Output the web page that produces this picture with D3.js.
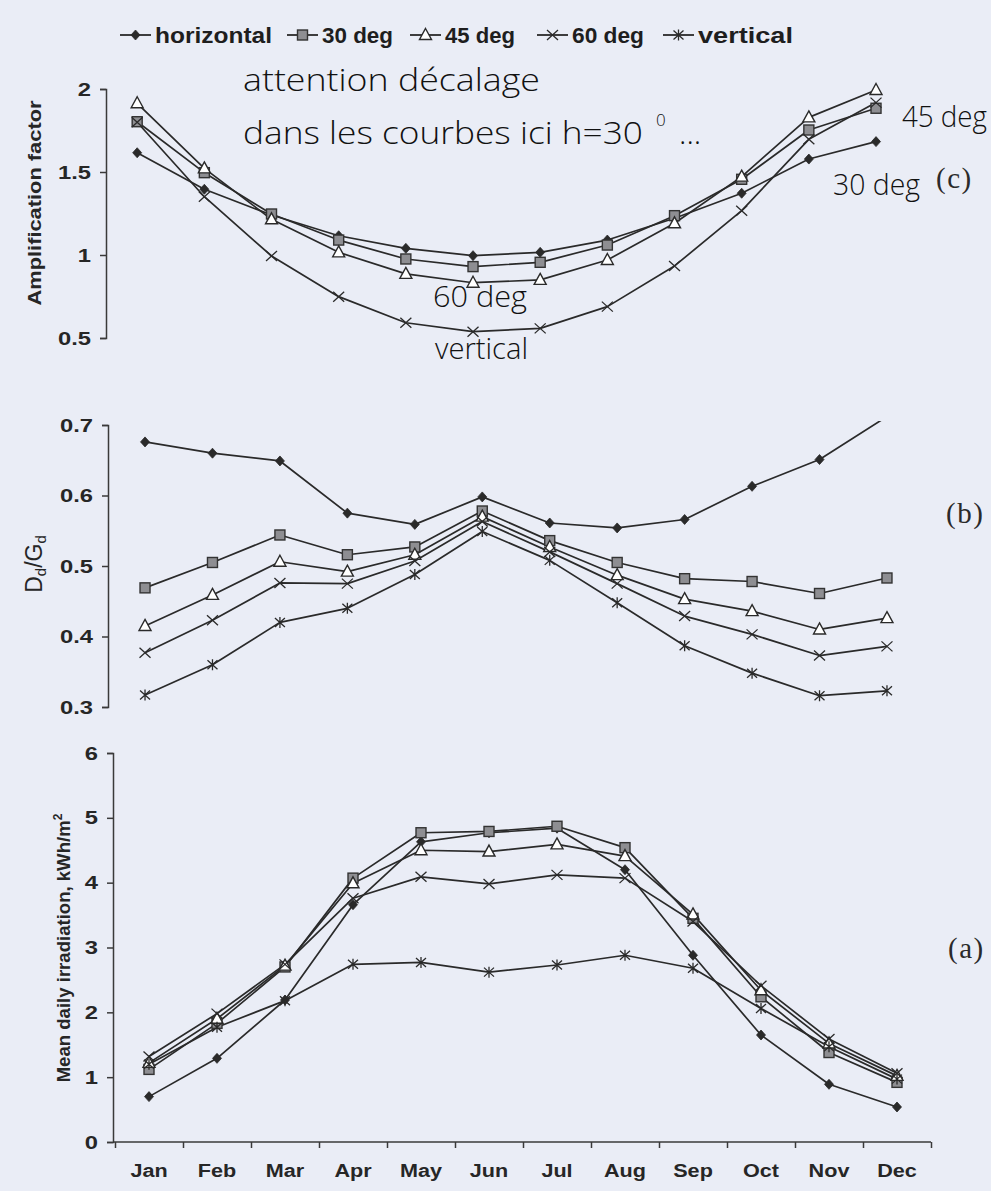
<!DOCTYPE html>
<html>
<head>
<meta charset="utf-8">
<script src="https://cdn.jsdelivr.net/npm/d3@7"></script>
<style>
  html, body { margin: 0; padding: 0; background: #eaedf6; }
  svg { display: block; }
</style>
</head>
<body>
<svg id="chart" width="991" height="1191"></svg>
<script>
// ---- data ----
const months = ["Jan", "Feb", "Mar", "Apr", "May", "Jun", "Jul", "Aug", "Sep", "Oct", "Nov", "Dec"];
const seriesNames = ["horizontal", "30 deg", "45 deg", "60 deg", "vertical"];

// (c) amplification factor, as plotted with the horizontal / 30 / 45 / 60 deg symbols
const ampHorizontal = [1.616, 1.396, 1.241, 1.116, 1.04, 0.996, 1.016, 1.09, 1.221, 1.372, 1.578, 1.683];
const amp30 = [1.803, 1.496, 1.247, 1.09, 0.976, 0.93, 0.956, 1.06, 1.237, 1.456, 1.753, 1.884];
const amp45 = [1.914, 1.522, 1.215, 1.016, 0.886, 0.833, 0.85, 0.97, 1.191, 1.472, 1.829, 1.994];
const amp60 = [1.80, 1.351, 0.994, 0.749, 0.592, 0.538, 0.558, 0.689, 0.934, 1.267, 1.697, 1.918];
const ampTicks = [0.5, 1, 1.5, 2];

// (b) diffuse fraction Dd/Gd
const dgHorizontal = [0.676, 0.660, 0.649, 0.575, 0.559, 0.598, 0.561, 0.554, 0.566, 0.613, 0.651, 0.712];
const dg30 = [0.469, 0.505, 0.544, 0.516, 0.527, 0.578, 0.536, 0.505, 0.482, 0.478, 0.461, 0.483];
const dg45 = [0.415, 0.459, 0.506, 0.492, 0.516, 0.570, 0.527, 0.487, 0.453, 0.436, 0.410, 0.426];
const dg60 = [0.377, 0.423, 0.476, 0.475, 0.507, 0.563, 0.520, 0.475, 0.429, 0.403, 0.373, 0.386];
const dgVertical = [0.317, 0.360, 0.420, 0.440, 0.488, 0.549, 0.508, 0.448, 0.387, 0.348, 0.316, 0.323];
const dgTicks = [0.3, 0.4, 0.5, 0.6, 0.7];

// (a) mean daily irradiation, kWh/m2
const irrHorizontal = [0.70, 1.29, 2.19, 3.66, 4.63, 4.77, 4.84, 4.20, 2.88, 1.65, 0.89, 0.54];
const irr30 = [1.12, 1.83, 2.70, 4.07, 4.77, 4.79, 4.87, 4.54, 3.45, 2.24, 1.38, 0.92];
const irr45 = [1.22, 1.90, 2.72, 3.99, 4.50, 4.48, 4.59, 4.41, 3.51, 2.34, 1.52, 1.02];
const irr60 = [1.32, 1.98, 2.74, 3.76, 4.09, 3.98, 4.12, 4.07, 3.40, 2.41, 1.59, 1.06];
const irrVertical = [1.20, 1.77, 2.18, 2.74, 2.77, 2.62, 2.73, 2.88, 2.68, 2.06, 1.47, 0.97];
const irrTicks = [0, 1, 2, 3, 4, 5, 6];

// ---- drawing ----
const svg = d3.select("#chart");
const INK = "#2a2a2a";
const AXIS_FONT = "'Liberation Sans', Arial, sans-serif";
const HAND_FONT = "'Open Sans', 'DejaVu Sans', sans-serif";

// stretch text horizontally (the printed sans is wider than Arial)
function widen(sel, factor) {
  sel.each(function () {
    const len = this.getComputedTextLength();
    d3.select(this).attr("textLength", len * factor).attr("lengthAdjust", "spacingAndGlyphs");
  });
}

// marker shapes, one per series in legend order
const shapes = ["diamond", "square", "triangle", "cross", "asterisk"];
function drawMarker(g, shape, x, y) {
  if (shape === "diamond") {
    g.append("path").attr("d", `M${x},${y - 5}L${x + 4.5},${y}L${x},${y + 5}L${x - 4.5},${y}Z`)
      .attr("fill", INK).attr("stroke", INK).attr("stroke-width", 0.8);
  } else if (shape === "square") {
    g.append("rect").attr("x", x - 5).attr("y", y - 5).attr("width", 10).attr("height", 10)
      .attr("fill", "#8e8e92").attr("stroke", "#333").attr("stroke-width", 1.4);
  } else if (shape === "triangle") {
    g.append("path").attr("d", `M${x},${y - 6.5}L${x + 6},${y + 4.5}L${x - 6},${y + 4.5}Z`)
      .attr("fill", "#ffffff").attr("stroke", INK).attr("stroke-width", 1.4);
  } else if (shape === "cross") {
    g.append("path").attr("d", `M${x - 5.5},${y - 5}L${x + 5.5},${y + 5}M${x - 5.5},${y + 5}L${x + 5.5},${y - 5}`)
      .attr("fill", "none").attr("stroke", INK).attr("stroke-width", 1.3);
  } else if (shape === "asterisk") {
    g.append("path").attr("d", `M${x - 5},${y - 4.5}L${x + 5},${y + 4.5}M${x - 5},${y + 4.5}L${x + 5},${y - 4.5}M${x},${y - 5.5}L${x},${y + 5.5}`)
      .attr("fill", "none").attr("stroke", INK).attr("stroke-width", 1.3);
  }
}

// legend
const legendX = [120, 287, 410, 537, 663];
const legendW = [117, 71, 70, 72, 95];
const legend = svg.append("g").attr("class", "legend");
seriesNames.forEach((name, i) => {
  const g = legend.append("g");
  const x0 = legendX[i], y0 = 35;
  g.append("line").attr("x1", x0).attr("x2", x0 + 31).attr("y1", y0).attr("y2", y0)
    .attr("stroke", INK).attr("stroke-width", 1.8);
  drawMarker(g, shapes[i], x0 + 15.5, y0);
  g.append("text").attr("x", x0 + 35).attr("y", y0 + 8)
    .attr("font-family", AXIS_FONT).attr("font-weight", "bold").attr("font-size", 22)
    .attr("textLength", legendW[i]).attr("lengthAdjust", "spacingAndGlyphs")
    .attr("fill", "#1e1e1e").text(name);
});

// panel definitions: data arrays + symbol per series + placement
const panels = [
  {
    id: "c", series: [ampHorizontal, amp30, amp45, amp60], shapes: ["diamond", "square", "triangle", "cross"],
    xRange: [103.6, 909.6], axisX: 106, yDomain: [0.5, 2], yRange: [338, 89],
    ticks: ampTicks, fmt: d => String(d), clipTop: 80
  },
  {
    id: "b", series: [dgHorizontal, dg30, dg45, dg60, dgVertical], shapes: shapes,
    xRange: [111.3, 920.7], axisX: 108, yDomain: [0.3, 0.7], yRange: [707, 425],
    ticks: dgTicks, fmt: d3.format(".1f"), clipTop: 421
  },
  {
    id: "a", series: [irrHorizontal, irr30, irr45, irr60, irrVertical], shapes: shapes,
    xRange: [115, 931], axisX: 113, yDomain: [0, 6], yRange: [1142, 753],
    ticks: irrTicks, fmt: d3.format("d"), clipTop: 740
  }
];

const defs = svg.append("defs");

panels.forEach(p => {
  const x = d3.scaleBand().domain(months).range(p.xRange);
  const cx = m => x(m) + x.bandwidth() / 2;
  const y = d3.scaleLinear().domain(p.yDomain).range(p.yRange);
  const g = svg.append("g").attr("class", "panel-" + p.id);

  // y axis
  const yAxis = d3.axisLeft(y).tickValues(p.ticks).tickFormat(p.fmt).tickSize(6).tickSizeOuter(6).tickPadding(9);
  const ya = g.append("g").attr("transform", `translate(${p.axisX},0)`).call(yAxis);
  ya.selectAll("path, line").attr("stroke", "#3a3a3a").attr("stroke-width", 1.5);
  ya.selectAll("text").attr("font-family", AXIS_FONT).attr("font-weight", "bold")
    .attr("font-size", 19).attr("fill", "#262626");
  widen(ya.selectAll("text"), 1.25);

  // clip to the plotting region so values above the scale are cut at the top
  defs.append("clipPath").attr("id", "clip-" + p.id).append("rect")
    .attr("x", 0).attr("y", p.clipTop).attr("width", 991).attr("height", 1191 - p.clipTop);

  const line = d3.line().x((d, i) => cx(months[i])).y(d => y(d));
  const plot = g.append("g").attr("clip-path", `url(#clip-${p.id})`);
  p.series.forEach(vals => {
    plot.append("path").datum(vals).attr("d", line)
      .attr("fill", "none").attr("stroke", INK).attr("stroke-width", 1.7).attr("stroke-linejoin", "round");
  });
  p.series.forEach((vals, si) => {
    const mg = plot.append("g");
    vals.forEach((v, i) => {
      if (v <= p.yDomain[1]) drawMarker(mg, p.shapes[si], cx(months[i]), y(v));
    });
  });

  // x axis only on the bottom panel
  if (p.id === "a") {
    const edges = d3.scaleLinear().domain([0, 12]).range(p.xRange);
    const xa = g.append("g").attr("transform", `translate(0,${y(0)})`)
      .call(d3.axisBottom(edges).tickValues(d3.range(13)).tickFormat("").tickSize(6).tickSizeOuter(0));
    xa.select(".domain").attr("d", `M${p.axisX},0H${p.xRange[1]}`);
    xa.selectAll("path, line").attr("stroke", "#3a3a3a").attr("stroke-width", 1.5);
    const xl = g.append("g").attr("transform", `translate(0,${y(0)})`)
      .call(d3.axisBottom(x).tickSize(0).tickPadding(22));
    xl.select(".domain").remove();
    xl.selectAll("text").attr("font-family", AXIS_FONT).attr("font-weight", "bold")
      .attr("font-size", 18).attr("fill", "#262626");
    widen(xl.selectAll("text"), 1.2);
  }
});

// y axis titles
svg.append("text").attr("transform", "translate(41,203) rotate(-90)")
  .attr("text-anchor", "middle").attr("font-family", AXIS_FONT).attr("font-weight", "bold")
  .attr("font-size", 18).attr("textLength", 205).attr("lengthAdjust", "spacingAndGlyphs")
  .attr("fill", "#262626").text("Amplification factor");

const dTitle = svg.append("text").attr("transform", "translate(42,564) rotate(-90)")
  .attr("text-anchor", "middle").attr("font-family", AXIS_FONT)
  .attr("font-size", 23).attr("fill", "#262626");
dTitle.append("tspan").text("D");
dTitle.append("tspan").attr("font-size", 15).attr("dy", 4).text("d");
dTitle.append("tspan").attr("dy", -4).text("/G");
dTitle.append("tspan").attr("font-size", 15).attr("dy", 4).text("d");

const mTitle = svg.append("text").attr("transform", "translate(70,948) rotate(-90)")
  .attr("text-anchor", "middle").attr("font-family", AXIS_FONT).attr("font-weight", "bold")
  .attr("font-size", 18).attr("fill", "#262626");
mTitle.append("tspan").attr("textLength", 262).attr("lengthAdjust", "spacingAndGlyphs")
  .text("Mean daily irradiation, kWh/m");
mTitle.append("tspan").attr("font-size", 12).attr("dy", -8).text("2");

// panel letters
const letters = [["(c)", 936, 188], ["(b)", 946, 523], ["(a)", 948, 958]];
letters.forEach(([t, lx, ly]) => {
  svg.append("text").attr("x", lx).attr("y", ly)
    .attr("font-family", "'Liberation Serif', 'Times New Roman', serif")
    .attr("font-size", 29).attr("letter-spacing", 1.5)
    .attr("fill", "#2a2a2a").text(t);
});

// handwritten notes
const notes = svg.append("g").attr("font-family", HAND_FONT).attr("font-weight", 300).attr("fill", "#111");
notes.append("text").attr("x", 243).attr("y", 91).attr("font-size", 31)
  .attr("textLength", 297).attr("lengthAdjust", "spacingAndGlyphs").text("attention décalage");
const n2 = notes.append("text").attr("y", 144).attr("font-size", 31);
n2.append("tspan").attr("x", 243).attr("textLength", 400).attr("lengthAdjust", "spacingAndGlyphs")
  .text("dans les courbes ici h=30");
n2.append("tspan").attr("x", 656).attr("y", 126).attr("font-size", 17).text("0");
n2.append("tspan").attr("x", 679).attr("y", 144).text("...");
notes.append("text").attr("x", 902).attr("y", 127).attr("font-size", 29)
  .attr("textLength", 85).attr("lengthAdjust", "spacingAndGlyphs").text("45 deg");
notes.append("text").attr("x", 833).attr("y", 195).attr("font-size", 29)
  .attr("textLength", 87).attr("lengthAdjust", "spacingAndGlyphs").text("30 deg");
notes.append("text").attr("x", 433).attr("y", 307).attr("font-size", 29)
  .attr("textLength", 94).attr("lengthAdjust", "spacingAndGlyphs").text("60 deg");
notes.append("text").attr("x", 435).attr("y", 359).attr("font-size", 29)
  .attr("textLength", 93).attr("lengthAdjust", "spacingAndGlyphs").text("vertical");
</script>
</body>
</html>
